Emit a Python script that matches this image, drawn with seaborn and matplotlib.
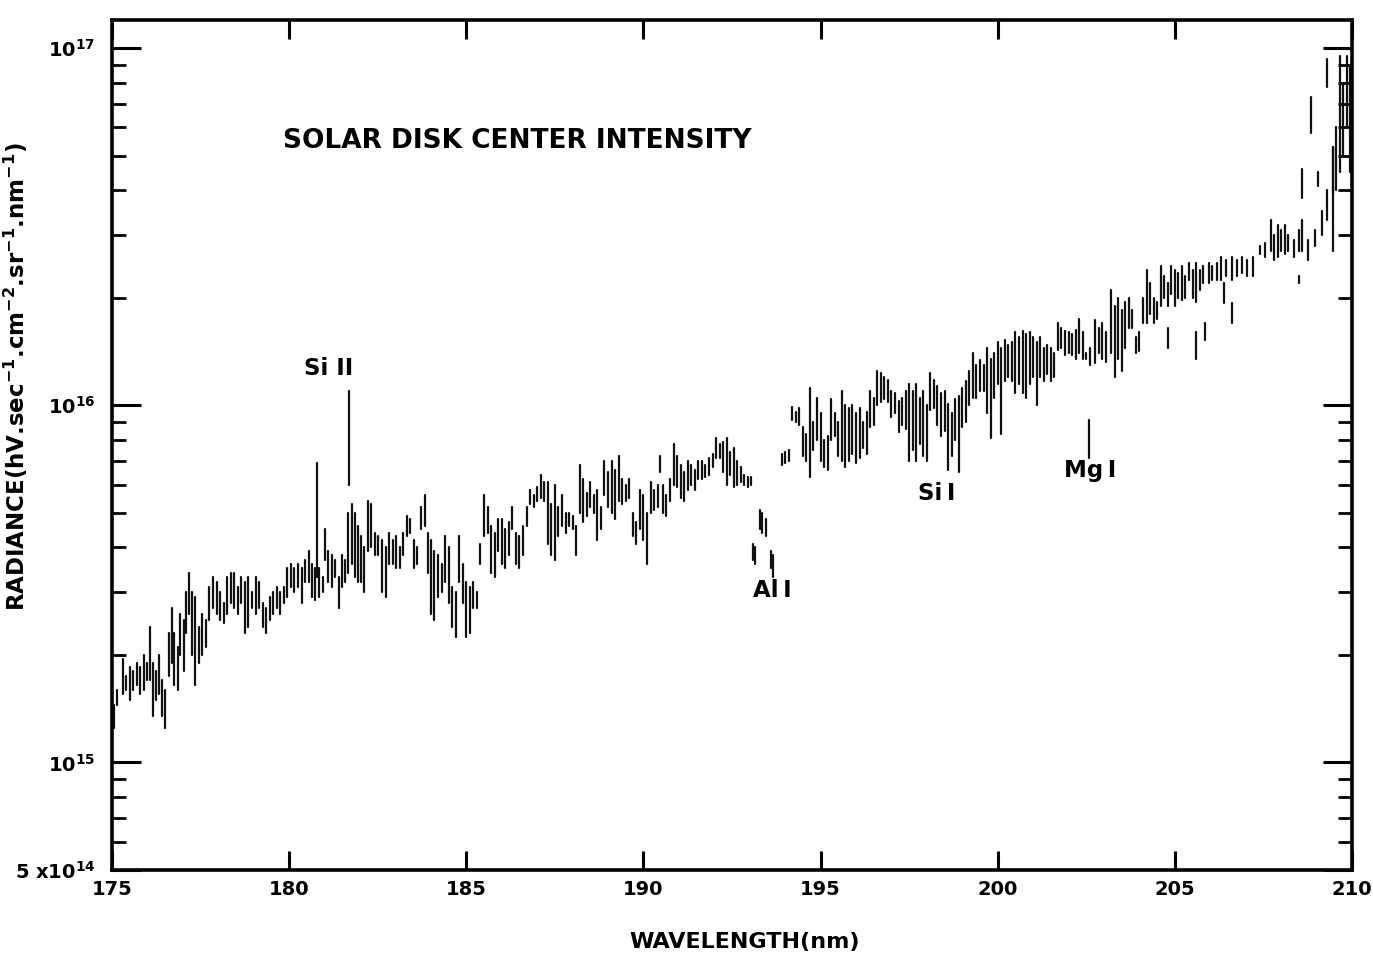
import numpy as np
import pandas as pd
import seaborn as sns
import matplotlib.pyplot as plt
from matplotlib.ticker import LogLocator, FixedLocator, NullFormatter

# radiance values in units of 1e15 hv/s/cm2/sr/nm
UNIT = 1e15

# continuum below the Al I edge (175 - 193.05 nm): stroke top / bottom
wl_a = [175.00, 175.05, 175.15, 175.30, 175.40, 175.50, 175.60, 175.70, 175.80, 175.90,
        176.00, 176.07, 176.15, 176.25, 176.32, 176.40, 176.50, 176.60, 176.68, 176.76,
        176.85, 176.93, 177.02, 177.10, 177.18, 177.27, 177.35, 177.45, 177.55, 177.65,
        177.75, 177.85, 177.95, 178.05, 178.15, 178.25, 178.35, 178.45, 178.55, 178.65,
        178.75, 178.85, 178.95, 179.05, 179.15, 179.25, 179.35, 179.45, 179.55, 179.65,
        179.75, 179.85, 179.95, 180.05, 180.15, 180.25, 180.35, 180.45, 180.55, 180.65,
        180.72, 180.78, 180.85, 180.95, 181.02, 181.10, 181.20, 181.30, 181.40, 181.50,
        181.58, 181.65, 181.70, 181.77, 181.85, 181.93, 182.02, 182.12, 182.22, 182.32,
        182.42, 182.52, 182.62, 182.72, 182.82, 182.92, 183.02, 183.12, 183.22, 183.32,
        183.42, 183.52, 183.62, 183.72, 183.82, 183.92, 184.00, 184.10, 184.20, 184.30,
        184.40, 184.50, 184.60, 184.70, 184.80, 184.90, 185.00, 185.10, 185.20, 185.30,
        185.40, 185.50, 185.60, 185.70, 185.80, 185.90, 186.00, 186.10, 186.20, 186.30,
        186.40, 186.50, 186.60, 186.70, 186.80, 186.90, 187.00, 187.10, 187.20, 187.30,
        187.40, 187.50, 187.60, 187.70, 187.80, 187.90, 188.00, 188.10, 188.20, 188.30,
        188.40, 188.50, 188.60, 188.70, 188.80, 188.90, 189.00, 189.10, 189.20, 189.30,
        189.40, 189.50, 189.60, 189.70, 189.80, 189.90, 190.00, 190.10, 190.20, 190.30,
        190.40, 190.47, 190.55, 190.65, 190.75, 190.85, 190.95, 191.05, 191.15, 191.25,
        191.35, 191.45, 191.55, 191.65, 191.75, 191.85, 191.95, 192.05, 192.15, 192.25,
        192.35, 192.45, 192.55, 192.65, 192.75, 192.85, 192.95, 193.05]
top_a = [1.50, 1.45, 1.60, 1.95, 1.75, 1.85, 1.80, 1.90, 1.85, 2.00,
         1.90, 2.40, 1.90, 1.80, 2.00, 1.70, 1.60, 2.30, 2.70, 2.30,
         2.10, 2.60, 2.50, 3.00, 3.40, 3.00, 2.90, 2.40, 2.60, 2.50,
         3.10, 3.30, 3.20, 3.00, 2.80, 3.30, 3.40, 3.40, 3.10, 3.30,
         3.20, 3.30, 3.00, 3.30, 3.20, 2.80, 2.70, 2.90, 3.00, 3.10,
         3.00, 3.10, 3.50, 3.60, 3.50, 3.60, 3.50, 3.70, 3.90, 3.60,
         3.50, 6.90, 3.50, 3.30, 4.50, 3.90, 3.80, 3.70, 3.30, 3.80,
         3.70, 5.00, 11.0, 5.30, 5.00, 4.60, 4.30, 4.00, 5.40, 5.30,
         4.40, 4.30, 4.20, 4.00, 4.40, 4.20, 4.30, 4.00, 4.40, 4.90,
         4.80, 4.20, 4.00, 5.20, 5.60, 4.40, 4.20, 3.90, 3.80, 3.60,
         4.30, 4.00, 3.10, 3.00, 4.30, 3.60, 3.20, 3.10, 3.20, 3.00,
         4.10, 5.60, 5.20, 4.60, 4.40, 4.80, 4.80, 4.50, 4.70, 5.20,
         4.40, 4.30, 4.60, 5.20, 5.80, 5.60, 5.90, 6.40, 6.10, 6.10,
         5.30, 6.00, 5.20, 5.60, 5.00, 5.00, 4.90, 4.60, 6.80, 6.20,
         5.70, 6.10, 5.60, 5.80, 5.20, 7.00, 6.50, 7.00, 6.60, 7.20,
         6.20, 6.00, 6.20, 5.00, 4.70, 5.80, 5.60, 5.00, 6.10, 5.80,
         6.00, 7.20, 6.00, 5.60, 6.20, 7.80, 7.20, 6.80, 6.50, 7.00,
         6.80, 6.60, 7.00, 7.00, 6.80, 7.10, 7.30, 8.10, 7.80, 7.90,
         8.10, 7.40, 7.60, 7.00, 6.70, 6.40, 6.30, 6.30]
bot_a = [1.30, 1.25, 1.45, 1.55, 1.60, 1.50, 1.60, 1.65, 1.55, 1.60,
         1.70, 1.70, 1.35, 1.50, 1.55, 1.35, 1.25, 1.75, 1.90, 1.65,
         1.60, 2.00, 1.80, 2.30, 2.60, 2.00, 1.65, 1.90, 2.00, 2.10,
         2.50, 2.70, 2.60, 2.50, 2.45, 2.60, 2.80, 2.70, 2.60, 2.80,
         2.30, 2.40, 2.70, 2.60, 2.70, 2.40, 2.30, 2.50, 2.60, 2.70,
         2.60, 2.80, 2.90, 3.10, 3.00, 3.10, 2.80, 3.20, 3.20, 2.90,
         2.85, 3.30, 2.90, 3.00, 3.70, 3.20, 3.10, 3.30, 2.70, 3.10,
         3.20, 3.40, 6.00, 3.60, 3.30, 3.20, 3.20, 3.00, 3.90, 4.00,
         3.80, 3.80, 3.00, 2.90, 3.60, 3.60, 3.50, 3.50, 3.80, 4.30,
         4.40, 3.50, 3.60, 4.50, 4.60, 3.40, 2.60, 2.50, 2.90, 3.00,
         3.20, 2.80, 2.40, 2.25, 3.20, 2.80, 2.25, 2.30, 2.70, 2.70,
         3.60, 4.30, 4.40, 3.40, 3.30, 3.90, 3.60, 3.50, 3.80, 4.50,
         3.60, 3.50, 3.80, 4.60, 5.30, 5.20, 5.40, 5.50, 5.40, 4.10,
         3.80, 3.70, 4.30, 4.60, 4.40, 4.60, 4.50, 3.80, 5.00, 4.70,
         4.90, 5.20, 5.00, 4.20, 4.50, 5.60, 5.20, 5.00, 4.80, 5.40,
         5.30, 5.40, 5.50, 4.30, 4.10, 4.50, 4.20, 3.60, 5.00, 5.10,
         5.20, 6.50, 5.00, 4.90, 5.40, 6.00, 5.90, 5.50, 5.40, 5.80,
         6.00, 5.80, 6.20, 6.20, 6.30, 6.40, 6.70, 7.10, 7.10, 6.50,
         6.00, 6.40, 5.90, 6.00, 6.10, 6.00, 5.90, 6.00]

# continuum above the Al I edge (193.9 - 210 nm)
wl_b = [193.90, 194.00, 194.10, 194.20, 194.30, 194.40, 194.50, 194.60, 194.70, 194.80,
        194.90, 195.00, 195.10, 195.20, 195.30, 195.40, 195.50, 195.60, 195.70, 195.80,
        195.90, 196.00, 196.10, 196.20, 196.30, 196.40, 196.50, 196.60, 196.70, 196.80,
        196.90, 197.00, 197.10, 197.20, 197.30, 197.40, 197.50, 197.60, 197.70, 197.80,
        197.90, 198.00, 198.10, 198.20, 198.30, 198.40, 198.50, 198.60, 198.70, 198.80,
        198.90, 199.00, 199.10, 199.20, 199.30, 199.40, 199.50, 199.60, 199.70, 199.80,
        199.90, 200.00, 200.10, 200.20, 200.30, 200.40, 200.50, 200.60, 200.70, 200.80,
        200.90, 201.00, 201.10, 201.20, 201.30, 201.40, 201.50, 201.60, 201.70, 201.80,
        201.90, 202.00, 202.10, 202.20, 202.30, 202.40, 202.50, 202.60, 202.75, 202.85,
        202.95, 203.05, 203.20, 203.30, 203.40, 203.50, 203.60, 203.70, 203.80, 203.90,
        204.00, 204.10, 204.20, 204.30, 204.40, 204.50, 204.60, 204.70, 204.80, 204.90,
        205.00, 205.10, 205.20, 205.30, 205.40, 205.50, 205.60, 205.70, 205.80, 205.95,
        206.05, 206.20, 206.30, 206.45, 206.60, 206.75, 206.90, 207.05, 207.20, 207.40,
        207.55, 207.70, 207.80, 207.90, 208.00, 208.10, 208.20, 208.35, 208.50, 208.60,
        208.75, 208.95, 209.15, 209.30, 209.45, 209.55, 209.65, 209.75, 209.85, 209.95,
        210.00]
top_b = [7.3, 7.4, 7.5, 9.9, 9.6, 9.8, 8.7, 8.3, 11.2, 9.0,
         10.5, 9.5, 8.0, 8.2, 10.4, 9.5, 9.0, 11.0, 10.0, 9.8,
         10.0, 9.5, 9.8, 9.0, 9.6, 11.0, 10.5, 12.5, 12.3, 12.0,
         11.8, 11.0, 10.8, 10.3, 10.5, 11.0, 11.5, 11.0, 11.5, 10.5,
         11.0, 10.0, 12.3, 11.8, 11.3, 10.8, 11.0, 10.1, 9.5, 10.4,
         10.6, 11.2, 11.7, 12.5, 14.0, 13.0, 13.4, 13.0, 14.5, 13.5,
         14.0, 15.0, 14.5, 15.2, 14.8, 15.0, 16.0, 15.5, 16.2, 15.8,
         16.0, 15.5, 15.0, 15.5, 14.5, 14.8, 14.5, 14.0, 17.0, 16.5,
         16.2, 16.0, 15.8, 16.3, 17.5, 16.0, 14.0, 14.5, 17.3, 16.5,
         17.0, 16.0, 21.0, 19.0, 20.0, 18.5, 19.5, 20.0, 18.5, 15.5,
         16.0, 20.0, 24.0, 22.0, 20.0, 19.5, 24.5, 23.0, 22.0, 24.5,
         24.0, 23.5, 24.5, 23.0, 25.0, 24.0, 25.0, 24.0, 24.5, 25.0,
         24.5, 25.0, 26.0, 25.5, 26.0, 25.5, 26.0, 25.5, 26.0, 28.0,
         28.5, 33.0, 30.0, 32.0, 31.0, 32.0, 30.0, 29.0, 31.0, 33.0,
         29.0, 31.0, 35.0, 40.0, 53.0, 60.0, 95.0, 80.0, 95.0, 90.0,
         80.0]
bot_b = [6.8, 6.9, 7.0, 9.1, 9.0, 8.8, 7.2, 7.0, 6.3, 7.5,
         8.0, 7.0, 6.7, 6.6, 8.0, 8.2, 7.2, 7.0, 6.7, 7.0,
         7.3, 6.9, 7.1, 7.6, 7.3, 8.7, 8.8, 10.0, 10.2, 10.4,
         10.2, 9.3, 9.5, 8.4, 8.8, 8.6, 7.0, 7.5, 7.0, 7.8,
         7.2, 7.0, 9.7, 9.8, 8.8, 8.2, 8.5, 6.6, 7.2, 8.0,
         6.5, 8.7, 9.0, 10.0, 10.5, 10.5, 11.0, 11.0, 9.5, 8.1,
         10.5, 11.5, 8.3, 11.7, 12.0, 11.7, 10.8, 11.5, 10.8, 10.5,
         11.5, 12.0, 10.0, 12.0, 11.7, 12.2, 11.7, 12.0, 14.3, 14.5,
         13.8, 14.0, 13.8, 13.5, 14.0, 13.5, 13.5, 13.0, 13.1, 14.0,
         13.5, 13.2, 14.0, 12.0, 13.5, 12.5, 14.5, 16.5, 16.5, 14.0,
         14.2, 17.0, 17.0, 18.0, 17.0, 17.5, 19.0, 20.0, 19.0, 20.5,
         19.0, 20.0, 19.7, 20.0, 22.5, 20.0, 19.5, 21.0, 22.0, 22.0,
         22.5, 22.5, 22.5, 23.0, 22.5, 23.0, 23.5, 23.0, 23.0, 26.5,
         26.0, 27.0, 25.5, 26.0, 27.0, 26.5, 27.0, 26.0, 27.0, 27.0,
         25.5, 28.0, 30.0, 33.0, 27.0, 40.0, 45.0, 50.0, 60.0, 45.0,
         50.0]

# Al I fragments and isolated line strokes (wavelength, top, bottom)
frag_wl = [193.08, 193.15, 193.28, 193.36, 193.45, 193.60, 193.66]
frag_top = [4.1, 4.0, 5.1, 5.0, 4.8, 3.9, 3.8]
frag_bot = [3.7, 3.6, 4.5, 4.4, 4.3, 3.5, 3.3]

line_wl = [202.58, 204.80, 205.60, 205.85, 206.40, 206.60, 208.50, 208.60, 208.85, 209.05, 209.30, 209.45]
line_top = [9.1, 16.5, 16.0, 17.0, 22.0, 19.3, 23.0, 46.0, 73.0, 45.0, 93.0, 53.0]
line_bot = [7.1, 14.5, 13.5, 15.2, 19.3, 17.0, 22.0, 38.0, 58.0, 41.0, 78.0, 39.0]

labels = ['Si II', 'Al\u2009I', 'Si\u2009I', 'Mg\u2009I']
label_wl = [181.10, 193.63, 198.28, 202.60]
label_rad = [12.7, 3.03, 5.67, 6.58]

x_ticks = [175, 180, 185, 190, 195, 200, 205, 210]

# every stroke is its own short vertical segment, like the plotter output
rows = []
for wl, top, bot in [(wl_a, top_a, bot_a), (wl_b, top_b, bot_b),
                     (frag_wl, frag_top, frag_bot), (line_wl, line_top, line_bot)]:
    for w, t, b in zip(wl, top, bot):
        uid = len(rows)
        rows.append((w, t * UNIT, uid))
        rows.append((w, b * UNIT, uid))
spec = pd.DataFrame(rows, columns=['wl', 'rad', 'stroke'])

sns.set_style('white')
plt.rcParams['font.family'] = ['DejaVu Sans']
plt.rcParams['mathtext.default'] = 'regular'
for key in ['text.color', 'axes.labelcolor', 'xtick.color', 'ytick.color']:
    plt.rcParams[key] = 'black'

fig = plt.figure(figsize=(13.73, 9.58), dpi=100)
ax = fig.add_axes([0.0816, 0.0919, 0.9031, 0.8873])
ax.set_yscale('log')

sns.lineplot(data=spec, x='wl', y='rad', units='stroke', estimator=None, sort=False,
             color='#111111', lw=1.6, ax=ax, legend=False)

ax.set_xlim(175, 210)
ax.set_ylim(5e14, 1.2e17)

ax.xaxis.set_major_locator(FixedLocator(x_ticks))
ax.set_xticklabels([str(t) for t in x_ticks])
ax.yaxis.set_major_locator(FixedLocator([5e14, 1e15, 1e16, 1e17]))
ax.set_yticklabels(['5 x10$^{14}$', '10$^{15}$', '10$^{16}$', '10$^{17}$'])
ax.yaxis.set_minor_locator(LogLocator(base=10, subs=np.arange(2, 10)))
ax.yaxis.set_minor_formatter(NullFormatter())

ax.tick_params(axis='both', which='major', direction='in', top=True, bottom=True,
               left=True, right=True, width=2.2, labelsize=14)
ax.tick_params(axis='x', which='major', length=14, pad=7)
ax.tick_params(axis='y', which='major', length=21, pad=12)
ax.tick_params(axis='y', which='minor', direction='in', left=True, right=True,
               length=10, width=2)
for lab in ax.get_xticklabels() + ax.get_yticklabels():
    lab.set_fontweight('bold')
for s in ax.spines.values():
    s.set_linewidth(2.6)
    s.set_color('black')

ax.set_xlabel('WAVELENGTH(nm)', fontsize=16, fontweight='bold')
ax.set_ylabel('RADIANCE(hV.sec$^{-1}$.cm$^{-2}$.sr$^{-1}$.nm$^{-1}$)', fontsize=16.5,
              fontweight='bold')
ax.xaxis.set_label_coords(0.51, -0.073)
ax.yaxis.set_label_coords(-0.066, 0.58)

ax.text(186.43, 5.5e16, 'SOLAR DISK CENTER INTENSITY', fontsize=19, fontweight='bold',
        ha='center', va='center')
for name, w, r in zip(labels, label_wl, label_rad):
    ax.text(w, r * UNIT, name, fontsize=16.5, fontweight='bold', ha='center', va='center')

fig.savefig('out.png', dpi=100, facecolor='white')
